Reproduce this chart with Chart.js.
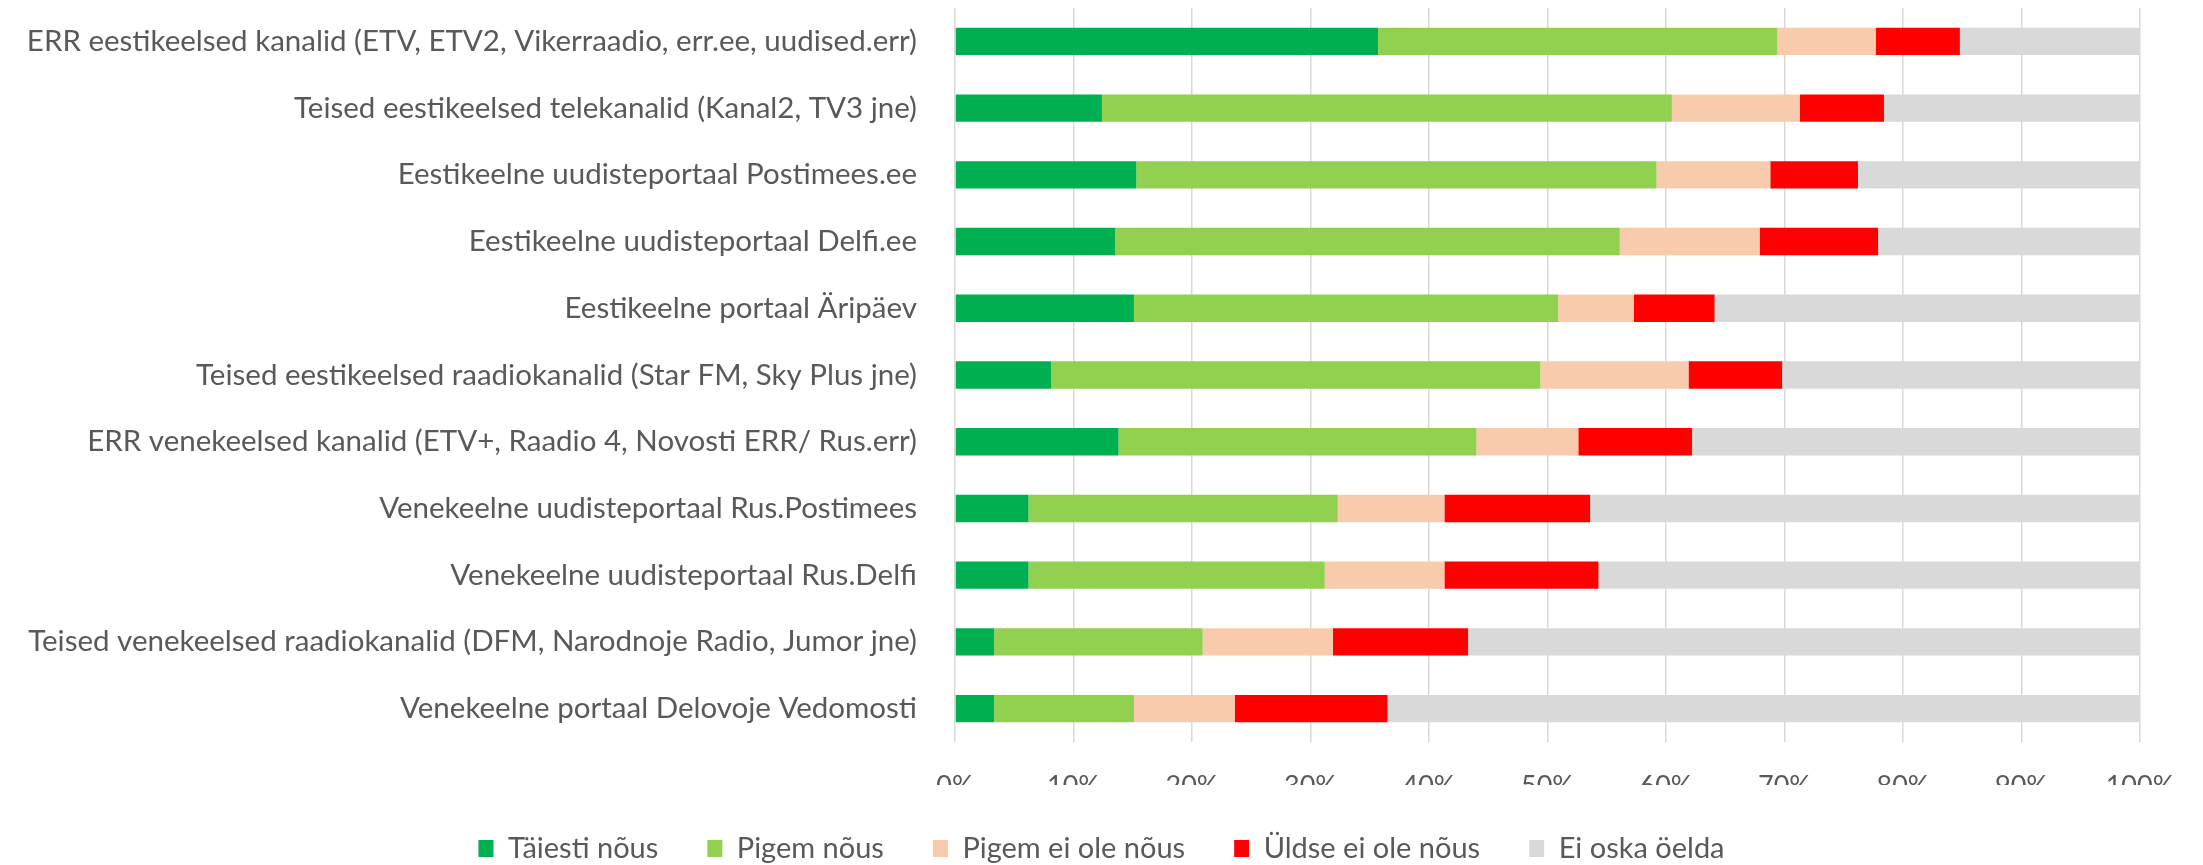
<!DOCTYPE html>
<html>
<head>
<meta charset="utf-8">
<script src="https://cdn.jsdelivr.net/npm/chart.js@4.4.1/dist/chart.umd.min.js"></script>
<style>
  html, body { margin: 0; padding: 0; background: #fff; }
  #wrap { width: 2203px; height: 865px; }
</style>
</head>
<body>
<div id="wrap"><canvas id="chart"></canvas></div>
<script>
const categories = [
    'ERR eestikeelsed kanalid (ETV, ETV2, Vikerraadio, err.ee, uudised.err)',
    'Teised eestikeelsed telekanalid (Kanal2, TV3 jne)',
    'Eestikeelne uudisteportaal Postimees.ee',
    'Eestikeelne uudisteportaal Delfi.ee',
    'Eestikeelne portaal Äripäev',
    'Teised eestikeelsed raadiokanalid (Star FM, Sky Plus jne)',
    'ERR venekeelsed kanalid (ETV+, Raadio 4, Novosti ERR/ Rus.err)',
    'Venekeelne uudisteportaal Rus.Postimees',
    'Venekeelne uudisteportaal Rus.Delfi',
    'Teised venekeelsed raadiokanalid (DFM, Narodnoje Radio, Jumor jne)',
    'Venekeelne portaal Delovoje Vedomosti'
];

const taiestiNous   = [35.7, 12.4, 15.3, 13.5, 15.1,  8.1, 13.8,  6.2,  6.2,  3.3,  3.3];
const pigemNous     = [33.7, 48.1, 43.9, 42.6, 35.8, 41.3, 30.2, 26.1, 25.0, 17.6, 11.8];
const pigemEiNous   = [ 8.3, 10.8,  9.6, 11.8,  6.4, 12.5,  8.6,  9.0, 10.1, 11.0,  8.5];
const uldseEiNous   = [ 7.1,  7.1,  7.4, 10.0,  6.8,  7.9,  9.6, 12.3, 13.0, 11.4, 12.9];
const eiOskaOelda   = [15.2, 21.6, 23.8, 22.1, 35.9, 30.2, 37.8, 46.4, 45.7, 56.7, 63.5];

const xTicks = [0, 10, 20, 30, 40, 50, 60, 70, 80, 90, 100];

const textColor = '#595959';
const fontFamily = 'Lato, "Open Sans", sans-serif';

function series(label, values, color) {
    return {
        label: label,
        data: values,
        backgroundColor: color,
        borderWidth: 0,
        barPercentage: 0.41,
        categoryPercentage: 1.0
    };
}

const data = {
    labels: categories,
    datasets: [
        series('Täiesti nõus', taiestiNous, '#00B050'),
        series('Pigem nõus', pigemNous, '#92D050'),
        series('Pigem ei ole nõus', pigemEiNous, '#F8CBAD'),
        series('Üldse ei ole nõus', uldseEiNous, '#FF0000'),
        series('Ei oska öelda', eiOskaOelda, '#D9D9D9')
    ]
};

// the wide gap between legend items also makes the legend box tall, trim it a bit
const legendTrim = {
    id: 'legendTrim',
    beforeInit(chart) {
        const legend = chart.legend;
        const fit = legend.fit;
        legend.fit = function () {
            fit.call(this);
            this.height -= 8;
        };
    }
};

const config = {
    type: 'bar',
    data: data,
    plugins: [legendTrim],
    options: {
        indexAxis: 'y',
        responsive: true,
        maintainAspectRatio: false,
        animation: false,
        layout: {
            padding: { top: 8, right: 0, bottom: 0, left: 0 }
        },
        plugins: {
            legend: {
                position: 'bottom',
                labels: {
                    boxWidth: 15,
                    boxHeight: 17,
                    padding: 49,
                    color: textColor,
                    font: { family: fontFamily, size: 29 }
                }
            },
            tooltip: { enabled: false }
        },
        scales: {
            x: {
                stacked: true,
                min: 0,
                max: 100,
                afterBuildTicks: axis => { axis.ticks = xTicks.map(v => ({ value: v })); },
                afterFit: axis => {
                    axis.height = 43;
                    axis.paddingRight = 63;
                },
                ticks: {
                    color: textColor,
                    padding: 28,
                    font: { family: fontFamily, size: 27 },
                    callback: v => v + '%'
                },
                grid: {
                    color: '#D9D9D9',
                    lineWidth: 1.5,
                    drawTicks: false
                },
                border: { display: false }
            },
            y: {
                stacked: true,
                afterFit: axis => {
                    axis.width = 955;
                    axis.paddingTop = 0;
                    axis.paddingBottom = 0;
                },
                ticks: {
                    color: textColor,
                    padding: 38,
                    font: { family: fontFamily, size: 29.5 }
                },
                grid: { display: false, drawTicks: false },
                border: { display: false }
            }
        }
    }
};

new Chart(document.getElementById('chart'), config);
</script>
</body>
</html>
